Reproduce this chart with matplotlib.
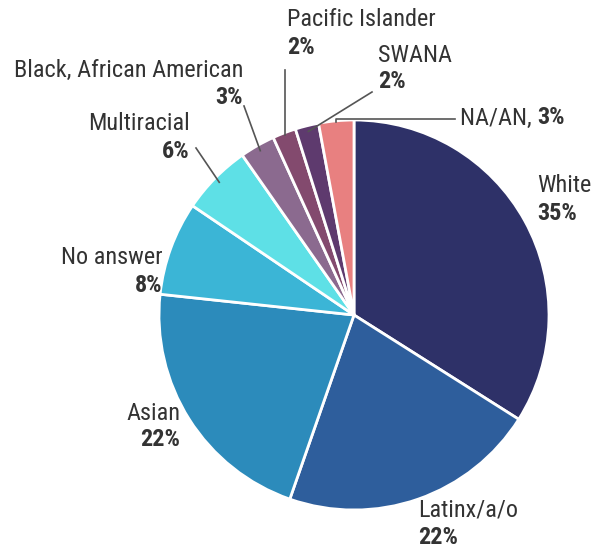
import numpy as np
import matplotlib
matplotlib.use("Agg")
import matplotlib.pyplot as plt
from matplotlib import font_manager
from matplotlib.font_manager import FontProperties

# groups and shares (percent), clockwise from 12 o'clock
groups = ["White", "Latinx/a/o", "Asian", "No answer", "Multiracial",
          "Black, African American", "Pacific Islander", "SWANA", "NA/AN"]
shares = [35, 22, 22, 8, 6, 3, 2, 2, 3]
colors = ["#2e3168", "#2e5e9c", "#2c8bbb", "#3bb5d6", "#5ee0e6",
          "#8b6a8f", "#834a6e", "#5e3a6e", "#e88080"]

W, H = 599, 552


def is_narrow(f):
    s = str(f.stretch).lower()
    return ("narrow" in f.name.lower() or "condensed" in f.name.lower()
            or s in ("condensed", "semi-condensed", "extra-condensed")
            or (s.isdigit() and int(s) < 500))


def pick_fonts():
    prefs = ["Liberation Sans Narrow", "Arial Narrow", "Roboto Condensed",
             "Open Sans Condensed", "Noto Sans", "DejaVu Sans", "Roboto",
             "Open Sans"]
    narrow = [f for f in font_manager.fontManager.ttflist
              if is_narrow(f) and f.style == "normal"]
    for fam in prefs:
        fs_ = [f for f in narrow if f.name == fam]
        if not fs_:
            continue
        reg = min(fs_, key=lambda f: abs(int(f.weight) - 400) if str(f.weight).isdigit() else 99)
        bold = min(fs_, key=lambda f: abs(int(f.weight) - 700) if str(f.weight).isdigit() else 99)
        return FontProperties(fname=reg.fname), FontProperties(fname=bold.fname), True
    return (FontProperties(family="Liberation Sans"),
            FontProperties(family="Liberation Sans", weight="bold"), False)


fp_reg, fp_bold, narrow_ok = pick_fonts()
fs = 17.5 if narrow_ok else 14.5

fig = plt.figure(figsize=(W / 100, H / 100), dpi=100)
ax = fig.add_axes([0, 0, 1, 1])

cx, cy, r = 354, H - 315, 195
wedges, _ = ax.pie(shares, colors=colors, startangle=90, counterclock=False,
                   center=(cx, cy), radius=r, frame=True,
                   wedgeprops=dict(edgecolor="white", linewidth=2))
ax.set_xlim(0, W)
ax.set_ylim(0, H)
ax.set_aspect("equal")
ax.axis("off")

txt = "#333333"
line_c = "#555555"


def label(x, y, name, pct, ha):
    # name on top, bold percentage below (pixel coords from the top)
    ax.text(x, H - y, name, ha=ha, va="center", fontproperties=fp_reg,
            fontsize=fs, color=txt)
    ax.text(x, H - y - 27, pct, ha=ha, va="center", fontproperties=fp_bold,
            fontsize=fs, color=txt)


def rim(i, frac=1.0):
    w = wedges[i]
    a = np.deg2rad((w.theta1 + w.theta2) / 2)
    return cx + r * frac * np.cos(a), cy + r * frac * np.sin(a)


def leader(i, x, y):
    x0, y0 = rim(i, 0.97)
    ax.plot([x0, x], [y0, H - y], color=line_c, lw=1.2)


label(537, 186, "White", "35%", "left")
label(418, 510, "Latinx/a/o", "22%", "left")
label(180, 413, "Asian", "22%", "right")
label(163, 258, "No answer", "8%", "right")
label(190, 124, "Multiracial", "6%", "right")
label(243, 70, "Black, African American", "3%", "right")
label(287, 20, "Pacific Islander", "2%", "left")
label(378, 55, "SWANA", "2%", "left")

leader(4, 196, 148)
leader(5, 244, 106)
x6, y6 = rim(6, 0.99)
ax.plot([x6, x6], [y6, H - 70], color=line_c, lw=1.2)
leader(7, 372, 92)

# NA/AN: elbow leader with single-line label
x8, y8 = rim(8, 0.995)
ax.plot([x8, x8, 455], [y8, H - 119, H - 119], color=line_c, lw=1.2)
t = ax.text(460, H - 118, "NA/AN, ", ha="left", va="center",
            fontproperties=fp_reg, fontsize=fs, color=txt)
fig.canvas.draw()
bb = t.get_window_extent()
x_pct = ax.transData.inverted().transform((bb.x1, 0))[0]
ax.text(x_pct, H - 118, "3%", ha="left", va="center",
        fontproperties=fp_bold, fontsize=fs, color=txt)

fig.savefig("out.png", dpi=100, facecolor="white")
